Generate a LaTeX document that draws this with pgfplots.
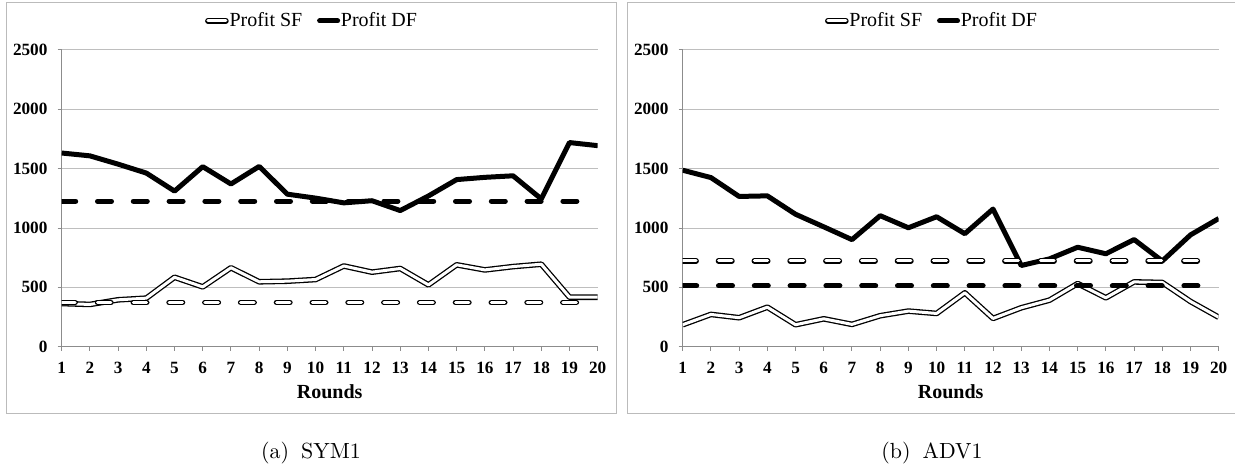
\documentclass[border=0pt]{standalone}
\usepackage{fontspec}
\usepackage{pgfplots}
\usepackage{pgfplotstable}
\pgfplotsset{compat=1.18}
\newfontfamily\tnr{Liberation Serif}

\definecolor{axisgray}{HTML}{8C8C8C}
\definecolor{gridgray}{HTML}{BEBEBE}
\definecolor{framegray}{HTML}{BBBBBB}

% round, single-firm profit (SF), double-firm profit (DF)
\pgfplotstableread{
r sf df
1 364 1632
2 356 1608
3 395 1538
4 409 1463
5 585 1311
6 504 1517
7 665 1371
8 547 1519
9 552 1285
10 566 1252
11 680 1212
12 628 1230
13 659 1147
14 521 1270
15 690 1408
16 647 1427
17 675 1440
18 695 1245
19 417 1720
20 417 1694
}\symdata

\pgfplotstableread{
r sf df
1 185 1487
2 272 1425
3 244 1266
4 333 1271
5 185 1116
6 235 1010
7 188 902
8 261 1104
9 300 1002
10 280 1095
11 454 952
12 238 1160
13 328 684
14 392 740
15 532 838
16 412 783
17 546 903
18 541 722
19 381 942
20 248 1080
}\advdata

\pgfplotsset{
  panel/.style={
    scale only axis, width=268pt, height=148.35pt,
    xmin=1, xmax=20, ymin=0, ymax=2500,
    xtick={1,...,20}, ytick={0,500,...,2500},
    axis x line*=bottom, axis y line*=left,
    axis line style={draw=axisgray, line width=0.5pt},
    tick style={draw=axisgray, line width=0.5pt},
    tick align=outside, major tick length=2.1pt,
    ymajorgrids, grid style={draw=gridgray, line width=0.5pt},
    /pgf/number format/assume math mode=true,
    /pgf/number format/1000 sep={},
    ticklabel style={font=\fontsize{8.6}{10}\selectfont\tnr\bfseries},
    xticklabel style={yshift=-2pt},
    yticklabel style={xshift=-1.5pt},
    xlabel={Rounds},
    xlabel style={font=\fontsize{10}{12}\selectfont\tnr\bfseries,
      at={(axis description cs:0.5,0)}, anchor=center, yshift=-22.5pt},
    legend columns=2,
    legend style={draw=none, fill=none, anchor=center,
      font=\fontsize{10}{12}\selectfont\tnr,
      nodes={inner sep=0.4pt},
      /tikz/every even column/.append style={column sep=7pt}},
    legend image code/.code={\draw[##1, line cap=round] (0pt,0pt) -- (9pt,0pt);},
  },
  sf/.style={draw=black, double=white, line width=0.65pt,
    double distance=1.5pt, line join=round},
  df/.style={draw=black, line width=2.5pt, line join=round},
  sfmean/.style={sf, line cap=round, dash pattern=on 6.7pt off 11.2pt},
  dfmean/.style={df, line cap=round, dash pattern=on 7pt off 10.9pt},
}

\begin{document}
\begin{tikzpicture}
\useasboundingbox (0pt,0pt) rectangle (617.5pt,232.5pt);

% panel frames
\draw[framegray, line width=0.65pt] (3.35pt,25.85pt) rectangle (308.15pt,231.15pt);
\draw[framegray, line width=0.65pt] (313.85pt,25.85pt) rectangle (619pt,231.15pt);

% (a) SYM1
\begin{axis}[panel, at={(30.85pt,59.15pt)}, anchor=south west,
  legend style={at={(axis description cs:0.466,1.098)}}]
  \addplot[sf] table[x=r, y=sf] {\symdata};
  \addlegendentry{Profit SF}
  \addplot[df] table[x=r, y=df] {\symdata};
  \addlegendentry{Profit DF}
  \addplot[sfmean, forget plot] coordinates {(1,373) (20,373)};
  \addplot[dfmean, forget plot] coordinates {(1,1226) (20,1226)};
\end{axis}

% (b) ADV1
\begin{axis}[panel, at={(341.35pt,59.15pt)}, anchor=south west,
  legend style={at={(axis description cs:0.464,1.098)}}]
  \addplot[sf] table[x=r, y=sf] {\advdata};
  \addlegendentry{Profit SF}
  \addplot[df] table[x=r, y=df] {\advdata};
  \addlegendentry{Profit DF}
  \addplot[sfmean, forget plot] coordinates {(1,723) (20,723)};
  \addplot[dfmean, forget plot] coordinates {(1,512) (20,512)};
\end{axis}

\node[anchor=base, font=\fontsize{10.95}{13}\selectfont] at (155.5pt,3pt) {(a)\hspace{6pt}SYM1};
\node[anchor=base, font=\fontsize{10.95}{13}\selectfont] at (466pt,3pt) {(b)\hspace{6pt}ADV1};
\end{tikzpicture}
\end{document}
